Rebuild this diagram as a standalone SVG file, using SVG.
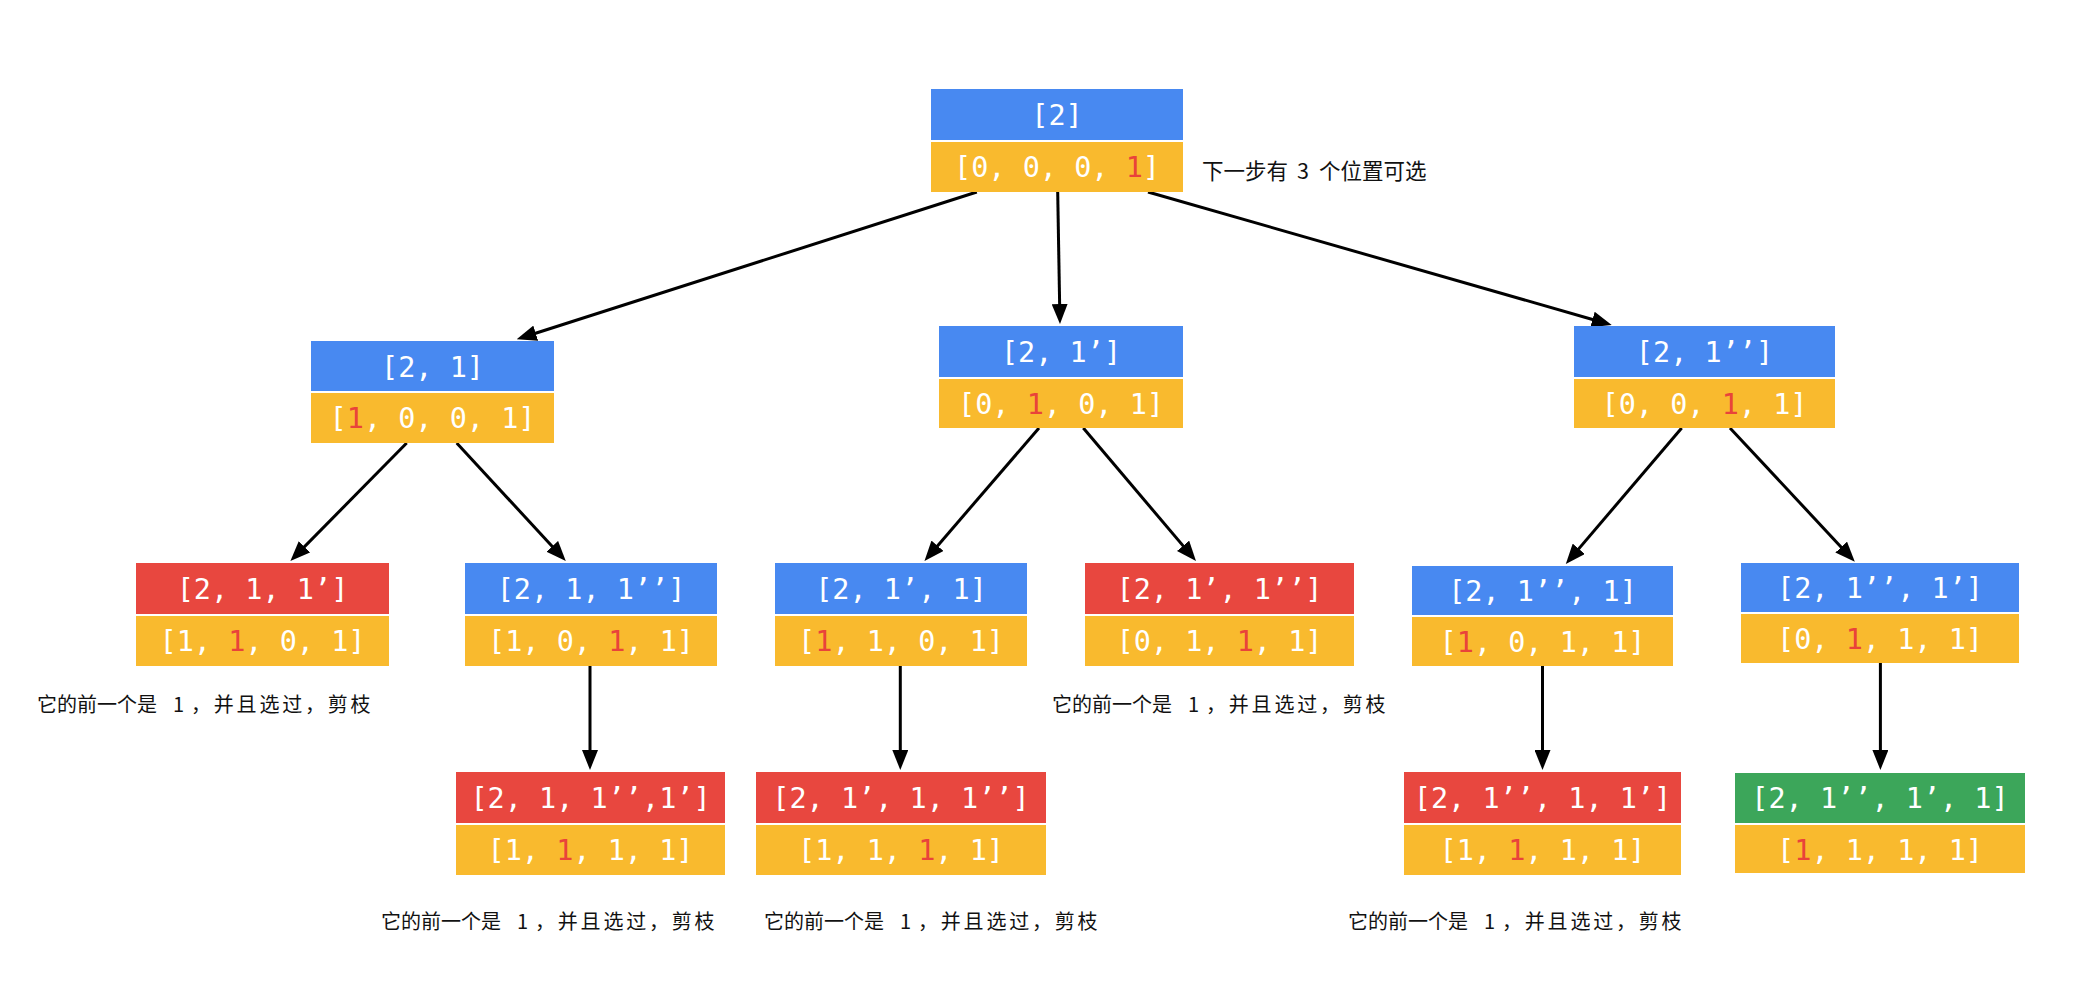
<svg xmlns="http://www.w3.org/2000/svg" width="2088" height="992" viewBox="0 0 2088 992">
<style>
.b{fill:#4889F1}
.y{fill:#F9BA2E}
.r{fill:#E8473F}
.g{fill:#3CA65A}
.t{font-family:"DejaVu Sans Mono","Liberation Mono",monospace;font-size:28.5px;fill:#ffffff;text-anchor:middle}
.hl{fill:#E9433A}
.lbl{font-family:"Noto Sans CJK SC","Noto Sans",sans-serif;font-size:20px;fill:#111111}
.top{font-size:21.5px}
.e{stroke:#000000;stroke-width:3;fill:none;marker-end:url(#arr)}
</style>
<defs>
<marker id="arr" markerUnits="userSpaceOnUse" markerWidth="20" markerHeight="16" refX="10" refY="8" orient="auto">
<path d="M0,0 L20,8 L0,16 z" fill="#000000"/>
</marker>
</defs>
<rect x="0" y="0" width="2088" height="992" fill="#ffffff"/>

<g id="connectors">
<line class="e" x1="976.8" y1="192" x2="526.2" y2="336.3"/>
<line class="e" x1="1057.7" y1="192" x2="1059.8" y2="314"/>
<line class="e" x1="1148" y1="192" x2="1602.1" y2="322.2"/>
<line class="e" x1="406.7" y1="443" x2="297.4" y2="553.9"/>
<line class="e" x1="456.7" y1="443" x2="559" y2="553.7"/>
<line class="e" x1="590" y1="666" x2="590" y2="760"/>
<line class="e" x1="1039" y1="428" x2="931" y2="553.4"/>
<line class="e" x1="1083.3" y1="428" x2="1189.5" y2="553.4"/>
<line class="e" x1="900.3" y1="666" x2="900.3" y2="760"/>
<line class="e" x1="1681.7" y1="428" x2="1572.3" y2="556.4"/>
<line class="e" x1="1730" y1="428" x2="1848" y2="554.4"/>
<line class="e" x1="1542.5" y1="666" x2="1542.5" y2="760"/>
<line class="e" x1="1880.4" y1="663" x2="1880.4" y2="760"/>
</g>

<g id="n-root">
<rect class="b" x="931" y="89" width="252" height="51"/>
<rect class="y" x="931" y="142" width="252" height="50"/>
<text class="t" x="1057" y="125">[2]</text>
<text class="t" x="1057" y="177">[0, 0, 0, <tspan class="hl">1</tspan>]</text>
</g>

<g id="n-2-1">
<rect class="b" x="311" y="341" width="243" height="50"/>
<rect class="y" x="311" y="393" width="243" height="50"/>
<text class="t" x="432.5" y="377">[2, 1]</text>
<text class="t" x="432.5" y="428">[<tspan class="hl">1</tspan>, 0, 0, 1]</text>
</g>

<g id="n-2-1p">
<rect class="b" x="939" y="326" width="244" height="51"/>
<rect class="y" x="939" y="379" width="244" height="49"/>
<text class="t" x="1061" y="362">[2, 1’]</text>
<text class="t" x="1061" y="414">[0, <tspan class="hl">1</tspan>, 0, 1]</text>
</g>

<g id="n-2-1pp">
<rect class="b" x="1574" y="326" width="261" height="51"/>
<rect class="y" x="1574" y="379" width="261" height="49"/>
<text class="t" x="1704.5" y="362">[2, 1’’]</text>
<text class="t" x="1704.5" y="414">[0, 0, <tspan class="hl">1</tspan>, 1]</text>
</g>

<g id="n-2-1-1p">
<rect class="r" x="136" y="563" width="253" height="51"/>
<rect class="y" x="136" y="616" width="253" height="50"/>
<text class="t" x="262.5" y="599">[2, 1, 1’]</text>
<text class="t" x="262.5" y="651">[1, <tspan class="hl">1</tspan>, 0, 1]</text>
</g>

<g id="n-2-1-1pp">
<rect class="b" x="465" y="563" width="252" height="51"/>
<rect class="y" x="465" y="616" width="252" height="50"/>
<text class="t" x="591" y="599">[2, 1, 1’’]</text>
<text class="t" x="591" y="651">[1, 0, <tspan class="hl">1</tspan>, 1]</text>
</g>

<g id="n-2-1p-1">
<rect class="b" x="775" y="563" width="252" height="51"/>
<rect class="y" x="775" y="616" width="252" height="50"/>
<text class="t" x="901" y="599">[2, 1’, 1]</text>
<text class="t" x="901" y="651">[<tspan class="hl">1</tspan>, 1, 0, 1]</text>
</g>

<g id="n-2-1p-1pp">
<rect class="r" x="1085" y="563" width="269" height="51"/>
<rect class="y" x="1085" y="616" width="269" height="50"/>
<text class="t" x="1219.5" y="599">[2, 1’, 1’’]</text>
<text class="t" x="1219.5" y="651">[0, 1, <tspan class="hl">1</tspan>, 1]</text>
</g>

<g id="n-2-1pp-1">
<rect class="b" x="1412" y="566" width="261" height="49"/>
<rect class="y" x="1412" y="617" width="261" height="49"/>
<text class="t" x="1542.5" y="601">[2, 1’’, 1]</text>
<text class="t" x="1542.5" y="652">[<tspan class="hl">1</tspan>, 0, 1, 1]</text>
</g>

<g id="n-2-1pp-1p">
<rect class="b" x="1741" y="563" width="278" height="49"/>
<rect class="y" x="1741" y="614" width="278" height="49"/>
<text class="t" x="1880" y="598">[2, 1’’, 1’]</text>
<text class="t" x="1880" y="649">[0, <tspan class="hl">1</tspan>, 1, 1]</text>
</g>

<g id="n-2-1-1pp-1p">
<rect class="r" x="456" y="772" width="269" height="51"/>
<rect class="y" x="456" y="825" width="269" height="50"/>
<text class="t" x="590.5" y="808">[2, 1, 1’’,1’]</text>
<text class="t" x="590.5" y="860">[1, <tspan class="hl">1</tspan>, 1, 1]</text>
</g>

<g id="n-2-1p-1-1pp">
<rect class="r" x="756" y="772" width="290" height="51"/>
<rect class="y" x="756" y="825" width="290" height="50"/>
<text class="t" x="901" y="808">[2, 1’, 1, 1’’]</text>
<text class="t" x="901" y="860">[1, 1, <tspan class="hl">1</tspan>, 1]</text>
</g>

<g id="n-2-1pp-1-1p">
<rect class="r" x="1404" y="772" width="277" height="51"/>
<rect class="y" x="1404" y="825" width="277" height="50"/>
<text class="t" x="1542.5" y="808">[2, 1’’, 1, 1’]</text>
<text class="t" x="1542.5" y="860">[1, <tspan class="hl">1</tspan>, 1, 1]</text>
</g>

<g id="n-2-1pp-1p-1">
<rect class="g" x="1735" y="773" width="290" height="50"/>
<rect class="y" x="1735" y="825" width="290" height="48"/>
<text class="t" x="1880" y="808">[2, 1’’, 1’, 1]</text>
<text class="t" x="1880" y="860">[<tspan class="hl">1</tspan>, 1, 1, 1]</text>
</g>

<g id="labels">
<text class="lbl top" y="178.5"><tspan x="1202">下一步有</tspan><tspan x="1297">3</tspan><tspan x="1319">个位置可选</tspan></text>
<text class="lbl" y="711.5"><tspan x="37">它的前一个是</tspan><tspan x="173">1</tspan><tspan x="191" letter-spacing="2.8">，并且选过，剪枝</tspan></text>
<text class="lbl" y="711.5"><tspan x="1052">它的前一个是</tspan><tspan x="1188">1</tspan><tspan x="1206" letter-spacing="2.8">，并且选过，剪枝</tspan></text>
<text class="lbl" y="928.5"><tspan x="381">它的前一个是</tspan><tspan x="517">1</tspan><tspan x="535" letter-spacing="2.8">，并且选过，剪枝</tspan></text>
<text class="lbl" y="928.5"><tspan x="764">它的前一个是</tspan><tspan x="900">1</tspan><tspan x="918" letter-spacing="2.8">，并且选过，剪枝</tspan></text>
<text class="lbl" y="928.5"><tspan x="1348">它的前一个是</tspan><tspan x="1484">1</tspan><tspan x="1502" letter-spacing="2.8">，并且选过，剪枝</tspan></text>
</g>
</svg>
